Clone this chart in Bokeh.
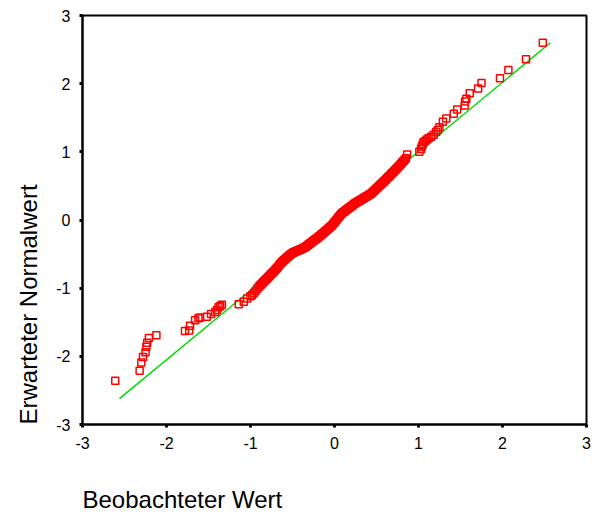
from bokeh.plotting import figure
from bokeh.models import Range1d, FixedTicker, Title
from bokeh.embed import file_html
from bokeh.resources import INLINE

observed = [
    -2.61, -2.32, -2.30, -2.28, -2.25, -2.24, -2.23, -2.21, -2.12,
    -1.78, -1.73, -1.72, -1.66, -1.62, -1.60, -1.52, -1.47, -1.42, -1.40,
    -1.38, -1.36, -1.34, -1.14, -1.08, -1.04, -1.00, -0.98, -0.96, -0.94, -0.92,
    -0.900, -0.875, -0.850, -0.825, -0.800, -0.775, -0.750, -0.725, -0.700,
    -0.675, -0.650, -0.625, -0.600, -0.575, -0.550, -0.525, -0.500, -0.475,
    -0.450, -0.425, -0.400, -0.375, -0.350, -0.325, -0.300, -0.275, -0.250,
    -0.225, -0.200, -0.175, -0.150, -0.125, -0.100, -0.075, -0.050, -0.025,
    0.000, 0.025, 0.050, 0.075, 0.100, 0.125, 0.150, 0.175, 0.200, 0.225,
    0.250, 0.275, 0.300, 0.325, 0.350, 0.375, 0.400, 0.425, 0.450, 0.475,
    0.500, 0.525, 0.550, 0.575, 0.600, 0.625, 0.650, 0.675, 0.700, 0.725,
    0.750, 0.775, 0.800, 0.825, 0.850, 0.865,
    1.01, 1.03, 1.04, 1.05, 1.06, 1.08, 1.10, 1.12, 1.15, 1.18, 1.21, 1.23, 1.25,
    1.29, 1.33, 1.42, 1.46, 1.55, 1.555, 1.57, 1.61, 1.71, 1.75, 1.97, 2.07,
    2.28, 2.48,
]
expected = [
    -2.36, -2.21, -2.09, -2.01, -1.94, -1.86, -1.80, -1.73, -1.69,
    -1.63, -1.62, -1.55, -1.47, -1.44, -1.43, -1.42, -1.38, -1.35, -1.32,
    -1.28, -1.26, -1.245, -1.235, -1.20, -1.15, -1.12, -1.10, -1.07, -1.04, -1.01,
    -0.978, -0.946, -0.914, -0.884, -0.853, -0.821, -0.790, -0.759, -0.725,
    -0.688, -0.650, -0.615, -0.588, -0.561, -0.534, -0.507, -0.484, -0.470,
    -0.456, -0.442, -0.428, -0.414, -0.400, -0.376, -0.353, -0.329, -0.306,
    -0.283, -0.259, -0.235, -0.208, -0.182, -0.155, -0.129, -0.102, -0.072,
    -0.034, 0.005, 0.043, 0.082, 0.109, 0.132, 0.156, 0.179, 0.202, 0.226,
    0.248, 0.266, 0.285, 0.304, 0.323, 0.341, 0.360, 0.379, 0.402, 0.432,
    0.461, 0.491, 0.521, 0.550, 0.580, 0.611, 0.643, 0.674, 0.705, 0.736,
    0.768, 0.801, 0.836, 0.871, 0.906, 0.96,
    1.00, 1.04, 1.08, 1.11, 1.14, 1.16, 1.18, 1.20, 1.22, 1.25, 1.29, 1.32, 1.36,
    1.44, 1.49, 1.56, 1.62, 1.68, 1.74, 1.78, 1.86, 1.93, 2.01, 2.08, 2.20,
    2.36, 2.60,
]

# Further cases inside the dense central band
observed_band = [
    -0.8875, -0.8625, -0.8375, -0.8125, -0.7875, -0.7625, -0.7375, -0.7125,
    -0.6875, -0.6625, -0.6375, -0.6125, -0.5875, -0.5625, -0.5375, -0.5125,
    -0.4875, -0.4625, -0.4375, -0.4125, -0.3875, -0.3625, -0.3375, -0.3125,
    -0.2875, -0.2625, -0.2375, -0.2125, -0.1875, -0.1625, -0.1375, -0.1125,
    -0.0875, -0.0625, -0.0375, -0.0125, 0.0125, 0.0375, 0.0625, 0.0875,
    0.1125, 0.1375, 0.1625, 0.1875, 0.2125, 0.2375, 0.2625, 0.2875, 0.3125,
    0.3375, 0.3625, 0.3875, 0.4125, 0.4375, 0.4625, 0.4875, 0.5125, 0.5375,
    0.5625, 0.5875, 0.6125, 0.6375, 0.6625, 0.6875, 0.7125, 0.7375, 0.7625,
    0.7875, 0.8125, 0.8375,
]
expected_band = [
    -0.962, -0.930, -0.899, -0.868, -0.837, -0.805, -0.774, -0.742,
    -0.706, -0.669, -0.632, -0.601, -0.574, -0.547, -0.520, -0.495,
    -0.477, -0.463, -0.449, -0.435, -0.421, -0.407, -0.388, -0.364,
    -0.341, -0.317, -0.294, -0.271, -0.247, -0.221, -0.195, -0.168,
    -0.142, -0.115, -0.087, -0.053, -0.014, 0.024, 0.062, 0.095,
    0.120, 0.144, 0.167, 0.190, 0.214, 0.237, 0.257, 0.275, 0.294,
    0.313, 0.332, 0.350, 0.369, 0.390, 0.417, 0.446, 0.476, 0.506,
    0.535, 0.565, 0.595, 0.627, 0.658, 0.689, 0.720, 0.752, 0.784,
    0.818, 0.853, 0.888,
]

# Reference diagonal
line_x = [-2.56, 2.57]
line_y = [-2.62, 2.60]

ticks = [-3, -2, -1, 0, 1, 2, 3]
tick_labels = ["-3", "-2", "-1", "0", "1", "2", "3"]
x_title = "Beobachteter Wert"
y_title = "Erwarteter Normalwert"

p = figure(width=595, height=517, output_backend="svg", toolbar_location=None,
           x_range=Range1d(-3, 3), y_range=Range1d(-3, 3),
           min_border_left=80, min_border_right=9, min_border_top=15,
           min_border_bottom=93)

p.background_fill_color = "white"
p.border_fill_color = "white"
p.outline_line_color = "black"
p.outline_line_width = 2
p.xgrid.visible = False
p.ygrid.visible = False

p.line(line_x, line_y, line_color="#00dd00", line_width=1.5)
p.scatter(observed + observed_band, expected + expected_band, marker="square",
          size=7, fill_color=None, line_color="#ff0000", line_width=1.5)

for ax in (p.xaxis[0], p.yaxis[0]):
    ax.ticker = FixedTicker(ticks=ticks)
    ax.major_label_overrides = {t: s for t, s in zip(ticks, tick_labels)}
    ax.minor_tick_line_color = None
    ax.major_tick_in = 0
    ax.major_tick_out = 3
    ax.major_tick_line_width = 3
    ax.major_tick_line_color = "black"
    ax.axis_line_width = 2
    ax.axis_line_color = "black"
    ax.major_label_text_font = "Liberation Sans"
    ax.major_label_text_font_size = "16px"
    ax.major_label_text_color = "black"

p.xaxis.major_label_standoff = 9
p.yaxis.major_label_standoff = 9

# Axis titles, aligned with the start of each axis
p.add_layout(Title(text="\n" + x_title, align="left", text_font="Liberation Sans",
                   text_font_size="24px", text_font_style="normal",
                   text_color="black", standoff=10), "below")
p.add_layout(Title(text=y_title, align="left", text_font="Liberation Sans",
                   text_font_size="24px", text_font_style="normal",
                   text_color="black", standoff=24), "left")

open("out.html", "w").write(file_html(p, INLINE))
